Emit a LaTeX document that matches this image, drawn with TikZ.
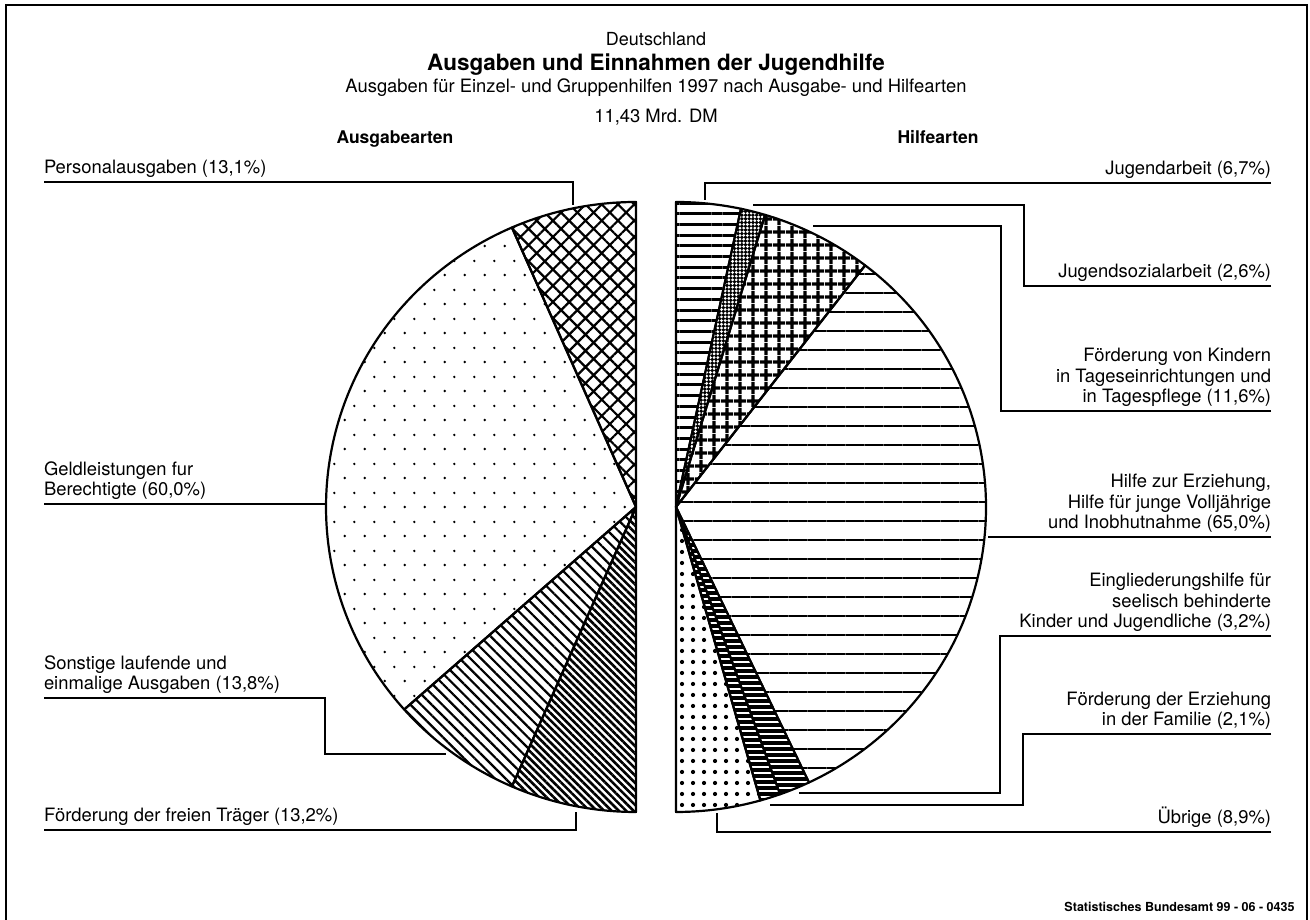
\documentclass[tikz,border=0pt]{standalone}
\usepackage{fontspec}
\setmainfont{TeX Gyre Heros}
\usetikzlibrary{patterns,patterns.meta}

\pgfdeclarepatternformonly{geld dots}{\pgfpointorigin}{\pgfpoint{20pt}{29pt}}{\pgfpoint{20pt}{29pt}}{%
	\pgfpathcircle{\pgfpoint{5pt}{7.25pt}}{1.4pt}%
	\pgfpathcircle{\pgfpoint{15pt}{21.75pt}}{1.4pt}%
	\pgfusepath{fill}}

\def\pieslice[#1](#2)(#3:#4){\path[#1] (#2) -- ++(#3:310 and 305) arc[start angle=#3, end angle=#4, x radius=310, y radius=305] -- cycle;}

\tikzset{
	pie/.style={draw, line width=2.2pt, line join=round},
	lbl/.style={inner sep=0pt, outer sep=0pt, text depth=8pt, font=\fontsize{18.4}{20.7}\selectfont},
	lead/.style={line width=2pt},
}

\begin{document}
\begin{tikzpicture}[x=1pt, y=1pt]
			%%%%% START %%%%%
			\useasboundingbox (0,0) rectangle (1310,920);
			
			\draw[line width=2pt] (6,-10) |- (1307,915) -- (1307,-10);
			
			\node[font=\fontsize{18}{20}\selectfont, anchor=base] (land) at (656, 874) {Deutschland};
			\node[font=\bfseries\fontsize{22.5}{25}\selectfont, anchor=base] (titel) at (656, 849) {Ausgaben und Einnahmen der Jugendhilfe};
			\node[font=\fontsize{18.4}{20}\selectfont, anchor=base] (unter) at (656, 827) {Ausgaben für Einzel- und Gruppenhilfen 1997 nach Ausgabe- und Hilfearten};
			\node[font=\fontsize{18.4}{20}\selectfont, anchor=base] (summe) at (656, 797) {11,43 Mrd. DM};
			\node[font=\bfseries\fontsize{17.5}{20}\selectfont, anchor=base west] (ausg) at (333, 776) {Ausgabearten};
			\node[font=\bfseries\fontsize{17.5}{20}\selectfont, anchor=base east] (hilf) at (982, 776) {Hilfearten};
			
			\coordinate (lc) at (636, 413);
			\coordinate (rc) at (676, 413);
			
			% Ausgabearten
			\pieslice[pie, pattern={Hatch[angle=45, distance=11.5pt, line width=2.2pt]}](lc)(90:113.6)
			\pieslice[pie, pattern=geld dots](lc)(113.6:221.6)
			\pieslice[pie, pattern={Lines[angle=-45, distance=7.5pt, line width=2.2pt]}](lc)(221.6:246.4)
			\pieslice[pie, pattern={Lines[angle=-45, distance=5.2pt, line width=2.6pt]}](lc)(246.4:270)
			
			% Hilfearten
			\pieslice[pie, pattern={Lines[distance=10.7pt, line width=3pt]}](rc)(90:77.9)
			\pieslice[fill=black](rc)(77.9:73.3)
			\pieslice[pie, pattern={Dots[radius=1.55pt, distance=3.7pt]}, pattern color=white](rc)(77.9:73.3)
			\pieslice[pie, pattern={Hatch[distance=13pt, line width=3.4pt]}](rc)(73.3:52.4)
			\pieslice[pie, pattern={Lines[distance=19pt, line width=1.6pt]}](rc)(52.4:-64.6)
			\pieslice[fill=black](rc)(-64.6:-70.4)
			\pieslice[pie, pattern={Lines[distance=6pt, line width=2.6pt]}, pattern color=white](rc)(-64.6:-70.4)
			\pieslice[fill=black](rc)(-70.4:-74.2)
			\pieslice[pie, pattern={Lines[distance=6pt, line width=2pt, yshift=3pt]}, pattern color=white](rc)(-70.4:-74.2)
			\pieslice[pie, pattern={Dots[radius=2.2pt, distance=10.5pt]}](rc)(-74.2:-90)
			
			% labels left
			\node[lbl, anchor=south west] (pers) at (44, 738) {Personalausgaben (13,1\%)};
			\node[lbl, anchor=south west, align=left] (geld) at (44, 416) {Geldleistungen fur\\Berechtigte (60,0\%)};
			\node[lbl, anchor=south west, align=left] (sonst) at (44, 222) {Sonstige laufende und\\einmalige Ausgaben (13,8\%)};
			\node[lbl, anchor=south west] (frei) at (44, 90) {Förderung der freien Träger (13,2\%)};
			
			% labels right
			\node[lbl, anchor=south east] (jug) at (1271, 737) {Jugendarbeit (6,7\%)};
			\node[lbl, anchor=south east] (jsoz) at (1271, 634) {Jugendsozialarbeit (2,6\%)};
			\node[lbl, anchor=south east, align=right] (kind) at (1271, 509) {Förderung von Kindern\\in Tageseinrichtungen und\\in Tagespflege (11,6\%)};
			\node[lbl, anchor=south east, align=right] (hilfe) at (1271, 383) {Hilfe zur Erziehung,\\Hilfe für junge Volljährige\\und Inobhutnahme (65,0\%)};
			\node[lbl, anchor=south east, align=right] (eingl) at (1271, 284) {Eingliederungshilfe für\\seelisch behinderte\\Kinder und Jugendliche (3,2\%)};
			\node[lbl, anchor=south east, align=right] (fam) at (1271, 186) {Förderung der Erziehung\\in der Familie (2,1\%)};
			\node[lbl, anchor=south east] (ueb) at (1271, 88) {Übrige (8,9\%)};
			
			\coordinate (pers-end) at (573, 715);
			\coordinate (geld-end) at (326, 416);
			\coordinate (sonst-knee) at (325, 166);
			\coordinate (sonst-end) at (446, 166);
			\coordinate (frei-end) at (576, 108);
			\coordinate (jug-end) at (705, 720);
			\coordinate (jsoz-knee) at (1024, 715);
			\coordinate (jsoz-end) at (753, 715);
			\coordinate (kind-knee) at (1001, 694);
			\coordinate (kind-end) at (813, 694);
			\coordinate (hilfe-end) at (988, 383);
			\coordinate (eingl-knee) at (1000, 127);
			\coordinate (eingl-end) at (799, 127);
			\coordinate (fam-knee) at (1023, 115);
			\coordinate (fam-end) at (770, 115);
			\coordinate (ueb-end) at (717, 107);
			
			\draw[lead] (pers.south west) -| (pers-end);
			\draw[lead] (geld.south west) -- (geld-end);
			\draw[lead] (sonst.south west) -| (sonst-knee) -- (sonst-end);
			\draw[lead] (frei.south west) -| (frei-end);
			\draw[lead] (jug.south east) -| (jug-end);
			\draw[lead] (jsoz.south east) -| (jsoz-knee) -- (jsoz-end);
			\draw[lead] (kind.south east) -| (kind-knee) -- (kind-end);
			\draw[lead] (hilfe.south east) -- (hilfe-end);
			\draw[lead] (eingl.south east) -| (eingl-knee) -- (eingl-end);
			\draw[lead] (fam.south east) -| (fam-knee) -- (fam-end);
			\draw[lead] (ueb.south east) -| (ueb-end);
			
			\node[font=\bfseries\fontsize{12.5}{14}\selectfont, anchor=base east] (quelle) at (1298, 8) {Statistisches Bundesamt 99 - 06 - 0435};
			%%%%% END %%%%%
\end{tikzpicture}
\end{document}
